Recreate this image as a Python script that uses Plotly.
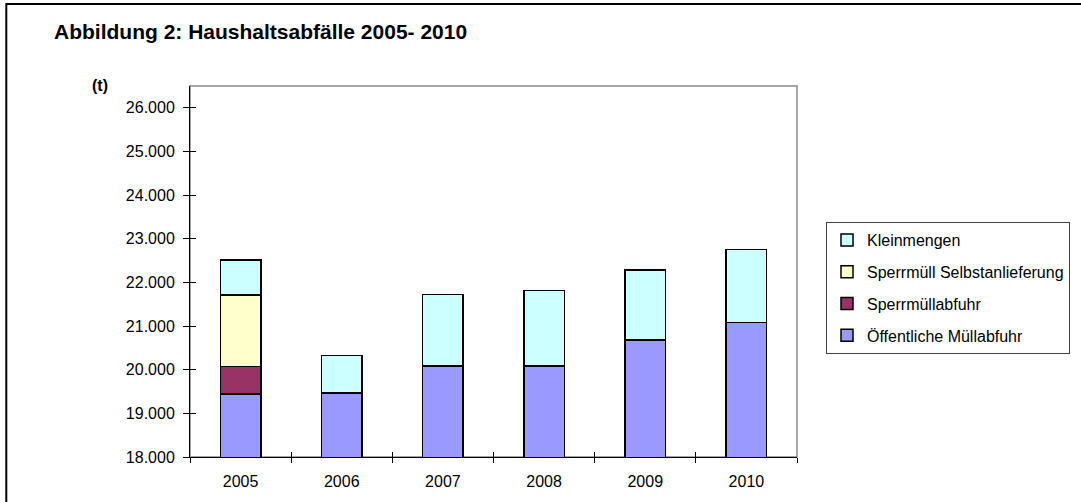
import plotly.graph_objects as go

# Haushaltsabfälle in Tonnen, je Jahr und Fraktion
jahre = ["2005", "2006", "2007", "2008", "2009", "2010"]
oeffentliche_muellabfuhr = [19440, 19470, 20090, 20080, 20680, 21080]
sperrmuellabfuhr = [630, 0, 0, 0, 0, 0]
sperrmuell_selbstanlieferung = [1640, 0, 0, 0, 0, 0]
kleinmengen = [800, 850, 1630, 1740, 1600, 1670]

serien = [
    ("Öffentliche Müllabfuhr", oeffentliche_muellabfuhr, "#9999FF"),
    ("Sperrmüllabfuhr", sperrmuellabfuhr, "#993366"),
    ("Sperrmüll Selbstanlieferung", sperrmuell_selbstanlieferung, "#FFFFCC"),
    ("Kleinmengen", kleinmengen, "#CCFFFF"),
]

y_min, y_max = 18000, 26500
font = "Liberation Sans, Arial, sans-serif"

fig = go.Figure()
n = len(serien)
for i, (name, werte, farbe) in enumerate(serien):
    fig.add_trace(go.Bar(
        x=jahre, y=werte, name=name, legendgroup=f"g{i}",
        legendrank=n - i,  # top of the stack first in the legend
        marker=dict(color=farbe, line=dict(color="black", width=1.5)),
    ))

# helper trace so the overlay axes (inner halves of the crossing ticks) get drawn
fig.add_trace(go.Scatter(x=[None], y=[None], xaxis="x2", yaxis="y2",
                         showlegend=False, hoverinfo="skip"))

W, H = 1081, 502
L, R, T, B = 190, 283, 86, 45
pw, ph = W - L - R, H - T - B


def px(x):
    return (x - L) / pw


def py(y):
    return (H - B - y) / ph


fig.update_layout(
    width=W, height=H,
    margin=dict(l=L, r=R, t=T, b=B),
    paper_bgcolor="white", plot_bgcolor="white",
    separators=",.",
    barmode="stack", bargap=0.6,
    font=dict(family=font, size=16, color="black"),
    showlegend=True,
    legend=dict(
        x=px(826), y=py(222), xanchor="left", yanchor="top",
        traceorder="grouped", tracegroupgap=8,
        bordercolor="#404040", borderwidth=1, bgcolor="white",
        font=dict(family=font, size=16, color="black"),
    ),
    xaxis=dict(
        type="category", tickson="boundaries", ticks="outside", ticklen=5,
        tickcolor="black", showline=True, linecolor="black", linewidth=1,
        showgrid=False, zeroline=False, ticklabelstandoff=10,
    ),
    yaxis=dict(
        range=[y_min, y_max], tick0=18000, dtick=1000, tickformat=",.0f",
        ticks="outside", ticklen=6, tickcolor="black", showline=True,
        linecolor="black", linewidth=1, showgrid=False, zeroline=False,
        ticklabelstandoff=5,
    ),
    xaxis2=dict(
        overlaying="x", anchor="y2", range=[-0.5, 5.5],
        tickvals=[-0.5, 0.5, 1.5, 2.5, 3.5, 4.5, 5.5],
        ticks="inside", ticklen=5, tickcolor="black", showticklabels=False,
        showline=False, showgrid=False, zeroline=False,
    ),
    yaxis2=dict(
        overlaying="y", anchor="x2", range=[y_min, y_max], tick0=18000,
        dtick=1000, ticks="inside", ticklen=6, tickcolor="black",
        showticklabels=False, showline=False, showgrid=False, zeroline=False,
    ),
    shapes=[
        # grey plot-area frame
        dict(type="rect", xref="paper", yref="paper", x0=0, y0=0, x1=1, y1=1,
             line=dict(color="#888888", width=1.5), layer="below"),
        # outer chart frame
        dict(type="rect", xref="paper", yref="paper",
             x0=px(6), y0=py(515), x1=px(1095), y1=py(4),
             line=dict(color="black", width=2), layer="below"),
    ],
    annotations=[
        dict(text="<b>Abbildung 2: Haushaltsabfälle 2005- 2010</b>",
             xref="paper", yref="paper", x=px(52), y=py(32),
             xanchor="left", yanchor="middle", showarrow=False,
             font=dict(family=font, size=21, color="black")),
        dict(text="<b>(t)</b>", xref="paper", yref="paper",
             x=px(100), y=py(85), xanchor="center", yanchor="middle",
             showarrow=False, font=dict(family=font, size=16, color="black")),
    ],
)

fig.write_html("out.html")
